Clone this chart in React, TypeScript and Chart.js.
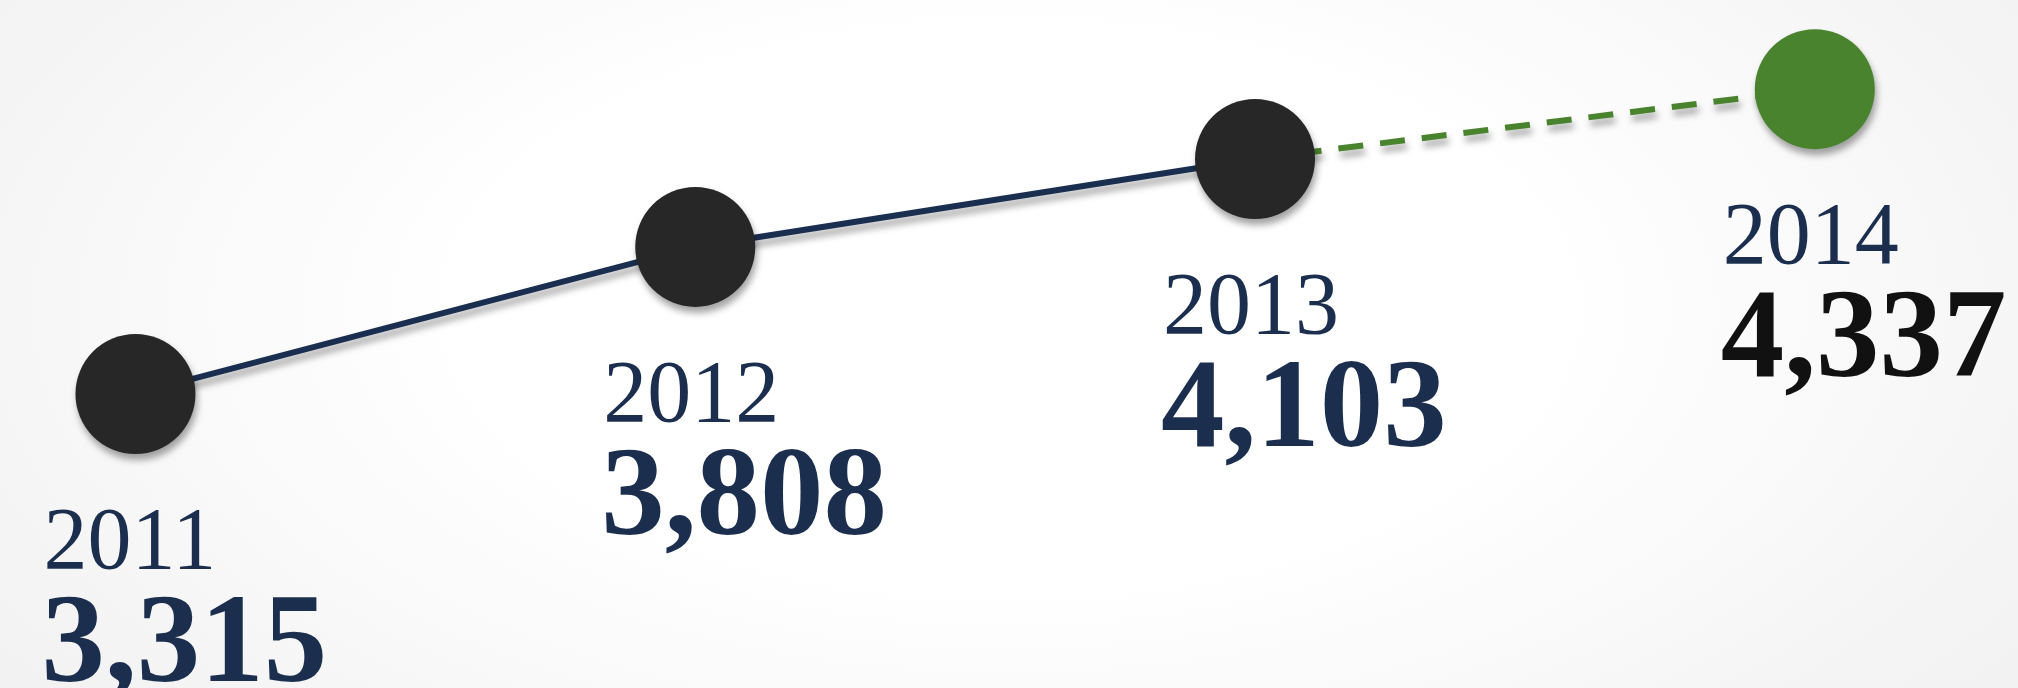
import React, { useEffect, useRef } from "react";
import { Chart, registerables } from "chart.js";

Chart.register(...registerables);

const years = [2011, 2012, 2013, 2014];
const values = [3315, 3808, 4103, 4337];
const valueLabels = ["3,315", "3,808", "4,103", "4,337"];
const pointColors = ["#272727", "#272727", "#272727", "#4a832e"];
const valueColors = ["#1b2e4e", "#1b2e4e", "#1b2e4e", "#111111"];

const NAVY = "#1a2e50";
const GREEN = "#4a832e";

const shadowPlugin = {
  id: "shadowPlugin",
  beforeDatasetsDraw(chart: any) {
    const ctx = chart.ctx;
    ctx.save();
    ctx.shadowColor = "rgba(0,0,0,0.36)";
    ctx.shadowBlur = 7;
    ctx.shadowOffsetX = 2;
    ctx.shadowOffsetY = 6;
  },
  afterDatasetsDraw(chart: any) {
    chart.ctx.restore();
  },
};

const labelPlugin = {
  id: "labelPlugin",
  afterDraw(chart: any) {
    const ctx = chart.ctx;
    const meta = chart.getDatasetMeta(0);
    ctx.save();
    ctx.textAlign = "left";
    ctx.textBaseline = "alphabetic";
    meta.data.forEach((pt: any, i: number) => {
      const x = pt.x - 92;
      ctx.fillStyle = "#1b2e4e";
      ctx.font = "normal 88px 'Liberation Serif', serif";
      ctx.fillText(String(years[i]), x, pt.y + 174);
      ctx.fillStyle = valueColors[i];
      ctx.font = "bold 127px 'Liberation Serif', serif";
      ctx.fillText(valueLabels[i], x - 2, pt.y + 287);
    });
    ctx.restore();
  },
};

export default function App() {
  const ref = useRef<HTMLCanvasElement | null>(null);

  useEffect(() => {
    document.body.style.margin = "0";
    if (!ref.current) return;
    const chart = new Chart(ref.current, {
      type: "line",
      data: {
        datasets: [
          {
            data: years.map((y, i) => ({ x: y, y: values[i] })),
            borderColor: NAVY,
            borderWidth: 6,
            pointRadius: 60,
            pointHoverRadius: 60,
            pointBackgroundColor: pointColors,
            pointBorderWidth: 0,
            tension: 0,
            clip: false as any,
            segment: {
              borderColor: (c: any) => (c.p1DataIndex === 3 ? GREEN : NAVY),
              borderDash: (c: any) => (c.p1DataIndex === 3 ? [25, 17] : []),
            } as any,
          },
        ],
      },
      options: {
        animation: false,
        responsive: false,
        maintainAspectRatio: false,
        devicePixelRatio: 1,
        layout: { padding: 0, autoPadding: false } as any,
        plugins: { legend: { display: false }, tooltip: { enabled: false } },
        events: [],
        scales: {
          x: { type: "linear", display: false, min: 2010.758, max: 2014.363 },
          y: { type: "linear", display: false, min: 2329, max: 4636 },
        },
      },
      plugins: [shadowPlugin, labelPlugin],
    });
    return () => chart.destroy();
  }, []);

  return (
    <div
      style={{
        position: "fixed",
        left: 0,
        top: 0,
        width: 2018,
        height: 688,
        background:
          "radial-gradient(ellipse 60% 90% at 50% 45%, #ffffff 45%, #f2f2f2 100%)",
      }}
    >
      <canvas ref={ref} width={2018} height={688} style={{ display: "block" }} />
    </div>
  );
}
